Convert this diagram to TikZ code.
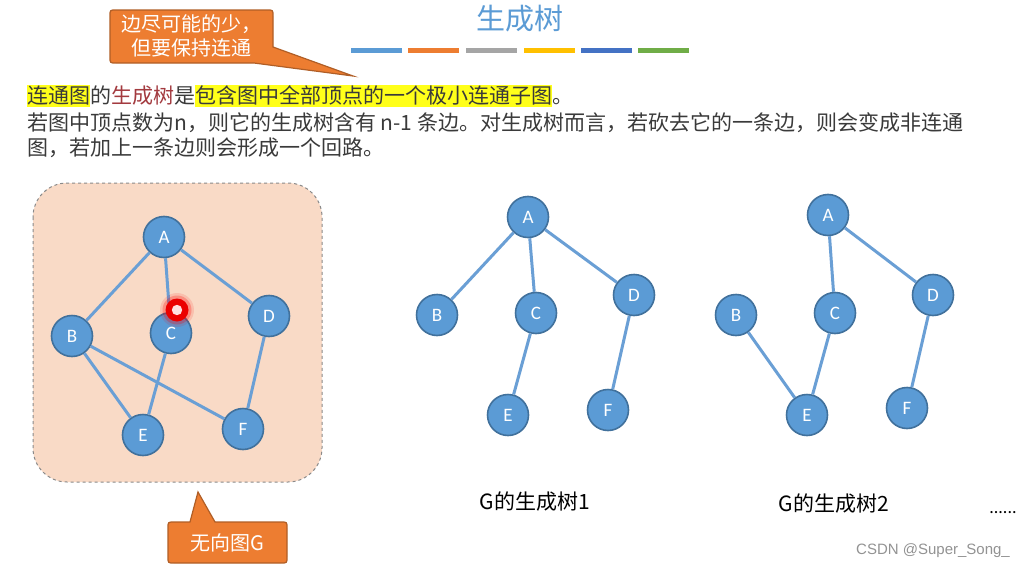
\documentclass[tikz,border=0pt]{standalone}
\usepackage{fontspec}
\setmainfont{Carlito}
\newfontfamily\cjk{Noto Sans CJK SC}
\newfontfamily\wmfont{Liberation Sans}

\definecolor{nodefill}{HTML}{5B9BD5}
\definecolor{nodeline}{HTML}{41719C}
\definecolor{edgeblue}{HTML}{6A9FD5}
\definecolor{calloutfill}{HTML}{ED7D31}
\definecolor{calloutline}{HTML}{B05E26}
\definecolor{peach}{HTML}{F9DAC6}
\definecolor{boxline}{HTML}{8A8A8A}
\definecolor{txtgray}{HTML}{3A3A3A}
\definecolor{termred}{HTML}{A33A3F}
\definecolor{hlyellow}{HTML}{FFFF1A}
\definecolor{titleblue}{HTML}{5B9BD5}
\definecolor{barA}{HTML}{5B9BD5}
\definecolor{barB}{HTML}{ED7D31}
\definecolor{barC}{HTML}{A5A5A5}
\definecolor{barD}{HTML}{FFC000}
\definecolor{barE}{HTML}{4472C4}
\definecolor{barF}{HTML}{70AD47}

\newcommand{\hlbox}[1]{{\setlength{\fboxsep}{0pt}\colorbox{hlyellow}{\rule[-0.2em]{0pt}{0.98em}#1}}}

\tikzset{
  vertex/.style={circle, minimum size=41pt, inner sep=0pt, fill=nodefill,
    draw=nodeline, line width=1.6pt, text=white, font=\fontsize{19}{19}\selectfont},
  link/.style={draw=edgeblue, line width=3pt},
  callout/.style={fill=calloutfill, draw=calloutline, line width=1.2pt},
  bodytext/.style={anchor=base west, inner sep=0pt, text=txtgray,
    font=\cjk\fontsize{21}{25}\selectfont},
  caption/.style={inner sep=0pt, text=black, font=\cjk\fontsize{21}{25}\selectfont},
  bar/.style={minimum width=51pt, minimum height=5pt, inner sep=0pt}
}

\begin{document}
\begin{tikzpicture}[x=1pt, y=-1pt]
\useasboundingbox[fill=white] (0,0) rectangle (1028,570);

% ---- title and colour strip ----
\node[inner sep=0pt, text=titleblue, font=\cjk\fontsize{29}{29}\selectfont] (title) at (520,19) {生成树};
\node[bar, fill=barA] (barA) at (376,50.5) {};
\node[bar, fill=barB] (barB) at (433,50.5) {};
\node[bar, fill=barC] (barC) at (491,50.5) {};
\node[bar, fill=barD] (barD) at (549,50.5) {};
\node[bar, fill=barE] (barE) at (606,50.5) {};
\node[bar, fill=barF] (barF) at (663,50.5) {};

% ---- top callout ----
\coordinate (tipA) at (353,76);
\path[callout] (116,10) -- (267,10) .. controls (273,10) .. (273,16)
  -- (273,47) -- (tipA) -- (254,63) -- (116,63) .. controls (110,63) .. (110,57)
  -- (110,16) .. controls (110,10) .. (116,10) -- cycle;
\node[inner sep=0pt, align=center, text=white, font=\cjk\fontsize{20}{24}\selectfont]
  (note1) at (191.5,36) {边尽可能的少，\\但要保持连通};

% ---- explanatory text ----
\node[bodytext] (line1) at (27,103) {\hlbox{连通图}的\textcolor{termred}{生成树}是\hlbox{包含图中全部顶点的一个极小连通子图}。};
\node[bodytext] (line2) at (27,130) {若图中顶点数为n，则它的生成树含有 n-1 条边。对生成树而言，若砍去它的一条边，则会变成非连通};
\node[bodytext] (line3) at (27,155) {图，若加上一条边则会形成一个回路。};

% ---- undirected graph G ----
\draw[fill=peach, draw=boxline, dashed, line width=1pt, rounded corners=34pt]
  (33,183) rectangle (322,482);
\node[vertex] (gA) at (164,237) {A};
\node[vertex] (gB) at (72,336) {B};
\node[vertex] (gC) at (171,333) {C};
\node[vertex] (gD) at (269,316) {D};
\node[vertex] (gE) at (143,435) {E};
\node[vertex] (gF) at (243,429) {F};
\draw[link] (gA) -- (gB);
\draw[link] (gA) -- (gC);
\draw[link] (gA) -- (gD);
\draw[link] (gB) -- (gE);
\draw[link] (gB) -- (gF);
\draw[link] (gC) -- (gE);
\draw[link] (gD) -- (gF);

% pointer marker
\fill[red, opacity=0.12] (177,310) circle (17);
\fill[red, opacity=0.25] (177,310) circle (14.5);
\fill[red!92!black] (177,310) circle (11.5);
\fill[white!88!red] (177,310) circle (5.2);

% ---- bottom callout ----
\coordinate (tipB) at (198,492);
\path[callout] (174,522) -- (190,522) -- (tipB) -- (215,522) -- (281,522)
  .. controls (287,522) .. (287,528) -- (287,557) .. controls (287,563) .. (281,563)
  -- (174,563) .. controls (168,563) .. (168,557) -- (168,528)
  .. controls (168,522) .. (174,522) -- cycle;
\node[inner sep=0pt, text=white, font=\cjk\fontsize{20}{24}\selectfont] (note2) at (227.5,543) {无向图G};

% ---- spanning tree 1 ----
\node[vertex] (pA) at (528,217) {A};
\node[vertex] (pB) at (437,315) {B};
\node[vertex] (pC) at (536,313) {C};
\node[vertex] (pD) at (634,295) {D};
\node[vertex] (pE) at (508,415) {E};
\node[vertex] (pF) at (608,410) {F};
\draw[link] (pA) -- (pB);
\draw[link] (pA) -- (pC);
\draw[link] (pA) -- (pD);
\draw[link] (pC) -- (pE);
\draw[link] (pD) -- (pF);
\node[caption] (cap1) at (535,502) {G的生成树1};

% ---- spanning tree 2 ----
\node[vertex] (qA) at (828,215) {A};
\node[vertex] (qB) at (736,315) {B};
\node[vertex] (qC) at (835,313) {C};
\node[vertex] (qD) at (933,295) {D};
\node[vertex] (qE) at (807,415) {E};
\node[vertex] (qF) at (907,408) {F};
\draw[link] (qA) -- (qC);
\draw[link] (qA) -- (qD);
\draw[link] (qB) -- (qE);
\draw[link] (qC) -- (qE);
\draw[link] (qD) -- (qF);
\node[caption] (cap2) at (834,504) {G的生成树2};

\node[inner sep=0pt, anchor=base, text=black, font=\fontsize{18}{18}\selectfont] (more) at (1003,513) {......};

% ---- watermark ----
\node[inner sep=0pt, text=gray!85, font=\wmfont\fontsize{15}{15}\selectfont] (mark) at (933,551) {CSDN @Super\_Song\_};
\end{tikzpicture}
\end{document}
